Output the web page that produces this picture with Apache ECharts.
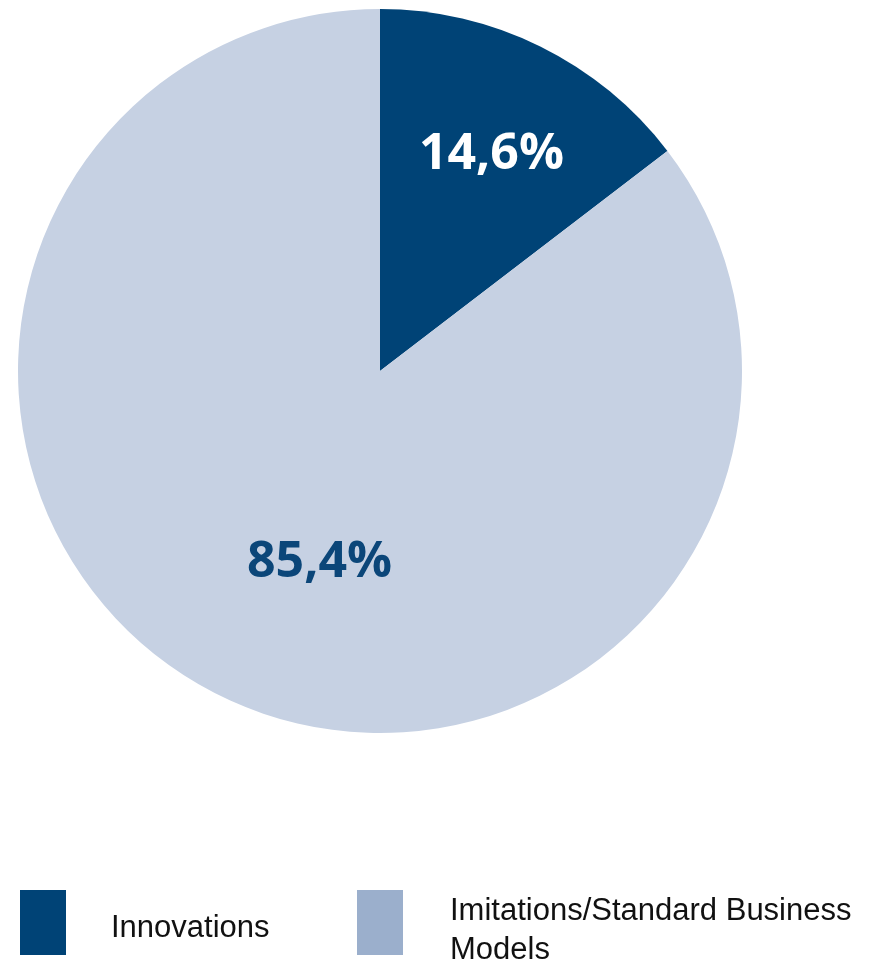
<!DOCTYPE html>
<html>
<head>
<meta charset="utf-8">
<style>
  html, body { margin: 0; padding: 0; background: #ffffff; }
  #chart { width: 869px; height: 963px; }
</style>
<script src="https://cdn.jsdelivr.net/npm/echarts@6/dist/echarts.min.js"></script>
</head>
<body>
<div id="chart"></div>
<script>
// Share of business models: innovations vs. imitations
const categories = ['Innovations', 'Imitations/Standard Business Models'];
const shares = [14.6, 85.4];
const sliceColors = ['#004376', '#c6d1e3'];
const legendColors = ['#004376', '#9bafcc'];
const labelColors = ['#ffffff', '#0b4679'];
// nudges from the default inside anchor for each slice label
const labelOffsets = [[30, -51], [21, 27]];

const fmtShare = v => v.toFixed(1).replace('.', ',') + '%';

const chart = echarts.init(document.getElementById('chart'), null, { renderer: 'canvas' });

// swatch-only legends (tall colour blocks, no text)
const swatchLegend = (i, left) => ({
  orient: 'vertical',
  left, top: 890,
  padding: 0,
  itemGap: 0,
  icon: 'rect',
  itemWidth: 46,
  itemHeight: 65,
  selectedMode: false,
  formatter: () => '',
  data: [{ name: categories[i], itemStyle: { color: legendColors[i] } }]
});

// text-only legends, placed independently of the swatches
const textLegend = (i, left, top, lineHeight) => ({
  orient: 'vertical',
  left, top,
  padding: 0,
  itemGap: 0,
  icon: 'rect',
  itemWidth: 0,
  itemHeight: 0,
  selectedMode: false,
  data: [{ name: categories[i], itemStyle: { opacity: 0 } }],
  textStyle: {
    fontFamily: 'Liberation Sans, Arial, sans-serif',
    fontSize: 31,
    color: '#111111',
    lineHeight,
    width: 420,
    overflow: 'break',
    padding: 0
  }
});

chart.setOption({
  animation: false,
  legend: [
    swatchLegend(0, 20),
    swatchLegend(1, 357),
    textLegend(0, 106, 911, 35),
    textLegend(1, 445, 892, 39)
  ],
  series: [{
    type: 'pie',
    center: [380, 371],
    radius: [0, 362],
    startAngle: 90,
    clockwise: true,
    silent: true,
    emphasis: { disabled: true },
    labelLine: { show: false },
    data: categories.map((name, i) => ({
      name,
      value: shares[i],
      itemStyle: { color: sliceColors[i] },
      label: {
        show: true,
        position: 'inside',
        formatter: () => fmtShare(shares[i]),
        color: labelColors[i],
        fontFamily: 'Open Sans, Noto Sans, sans-serif',
        fontWeight: 'bold',
        fontSize: 50,
        offset: labelOffsets[i]
      }
    }))
  }]
});
</script>
</body>
</html>
